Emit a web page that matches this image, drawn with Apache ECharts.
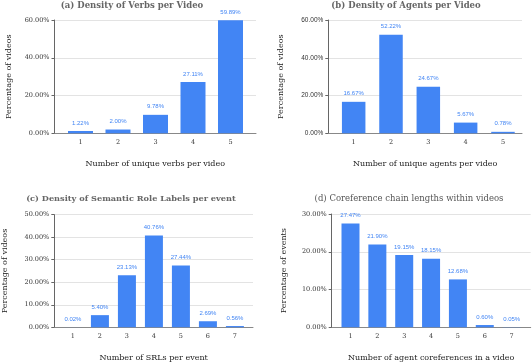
<!DOCTYPE html>
<html>
<head>
<meta charset="utf-8">
<style>
  html, body { margin: 0; padding: 0; background: #fff; }
  #main { width: 532px; height: 364px; }
</style>
<script src="https://cdn.jsdelivr.net/npm/echarts@6.0.0/dist/echarts.min.js"></script>
</head>
<body>
<div id="main"></div>
<script>
// (a) verbs per video
var catsA = [1, 2, 3, 4, 5];
var valsA = [1.22, 2.00, 9.78, 27.11, 59.89];
// (b) agents per video
var catsB = [1, 2, 3, 4, 5];
var valsB = [16.67, 52.22, 24.67, 5.67, 0.78];
// (c) SRLs per event
var catsC = [1, 2, 3, 4, 5, 6, 7];
var valsC = [0.02, 5.40, 23.13, 40.76, 27.44, 2.69, 0.56];
// (d) coreference chain lengths
var catsD = [1, 2, 3, 4, 5, 6, 7];
var valsD = [27.47, 21.90, 19.15, 18.15, 12.68, 0.60, 0.05];

var titles = [
    '(a) Density of Verbs per Video',
    '(b) Density of Agents per Video',
    '(c) Density of Semantic Role Labels per event',
    '(d) Coreference chain lengths within videos'
];
var xNames = [
    'Number of unique verbs per video',
    'Number of unique agents per video',
    'Number of SRLs per event',
    'Number of agent coreferences in a video'
];
var yNames = ['Percentage of videos', 'Percentage of videos', 'Percentage of videos', 'Percentage of events'];
var yMax = [60, 60, 50, 30];
var yStep = [20, 20, 10, 10];

var serif = 'DejaVu Serif';
var blue = '#4285f4';

// panel geometry
var panels = [
    {grid: {left: 54.5, top: 20, width: 201.5, height: 113.3}, xMin: 0.307, xMax: 5.68, barW: 25, yFont: serif, tx: 127, ty: -4, tSize: 8.5, yGap: 42},
    {grid: {left: 328.3, top: 20, width: 193.7, height: 113.3}, xMin: 0.32, xMax: 5.51, barW: 23.5, yFont: 'Liberation Sans', tx: 401, ty: -4, tSize: 8.5, yGap: 43},
    {grid: {left: 54.3, top: 214.7, width: 198.7, height: 112.6}, xMin: 0.31, xMax: 7.67, barW: 18, yFont: serif, tx: 126, ty: 189.5, tSize: 8.2, yGap: 45},
    {grid: {left: 331.7, top: 214, width: 199, height: 113.3}, xMin: 0.30, xMax: 7.71, barW: 18, yFont: serif, tx: 404, ty: 189.5, tSize: 8.5, yGap: 44}
];
var cats = [catsA, catsB, catsC, catsD];
var vals = [valsA, valsB, valsC, valsD];

function pct(v){
    return v.toFixed(2) + '%';
}

var option = {
    animation: false,
    title: [], grid: [], xAxis: [], yAxis: [], series: []
};

panels.forEach(function(p, i){
    option.title.push({
        text: titles[i],
        left: p.tx, top: p.ty,
        textAlign: 'center',
        textStyle: {
            fontFamily: serif, fontSize: p.tSize,
            fontWeight: i == 3 ? 'normal' : 'bold',
            color: i == 3 ? '#555' : '#666'
        }
    });
    option.grid.push(p.grid);
    option.xAxis.push({
        gridIndex: i,
        type: 'value',
        min: p.xMin, max: p.xMax,
        name: xNames[i],
        nameLocation: 'middle',
        nameGap: 27,
        nameTextStyle: {fontFamily: serif, fontSize: 8, color: '#222'},
        axisLine: {show: true, lineStyle: {color: '#888', width: 1}},
        axisTick: {show: false},
        splitLine: {show: false},
        axisLabel: {
            customValues: cats[i],
            fontFamily: serif, fontSize: 6.5, color: '#333', margin: 6
        }
    });
    option.yAxis.push({
        gridIndex: i,
        type: 'value',
        min: 0, max: yMax[i], interval: yStep[i],
        name: yNames[i],
        nameLocation: 'middle',
        nameGap: p.yGap,
        nameTextStyle: {fontFamily: serif, fontSize: 8, color: '#222'},
        axisLine: {show: true, lineStyle: {color: '#666', width: 1}},
        axisTick: {show: true, length: 3, lineStyle: {color: '#666'}},
        splitLine: {lineStyle: {color: '#e3e3e3', width: 1}},
        axisLabel: {
            formatter: pct,
            fontFamily: p.yFont, fontSize: 6.5, color: '#333', margin: 5
        }
    });
    option.series.push({
        type: 'bar',
        xAxisIndex: i, yAxisIndex: i,
        barWidth: p.barW,
        data: cats[i].map(function(c, k){ return [c, vals[i][k]]; }),
        itemStyle: {color: blue},
        label: {
            show: true, position: 'top', distance: 5,
            fontFamily: 'Liberation Sans', fontSize: 6, color: blue,
            formatter: function(d){ return pct(d.value[1]); }
        }
    });
});

var chart = echarts.init(document.getElementById('main'), null, {renderer: 'canvas'});
chart.setOption(option);
</script>
</body>
</html>
